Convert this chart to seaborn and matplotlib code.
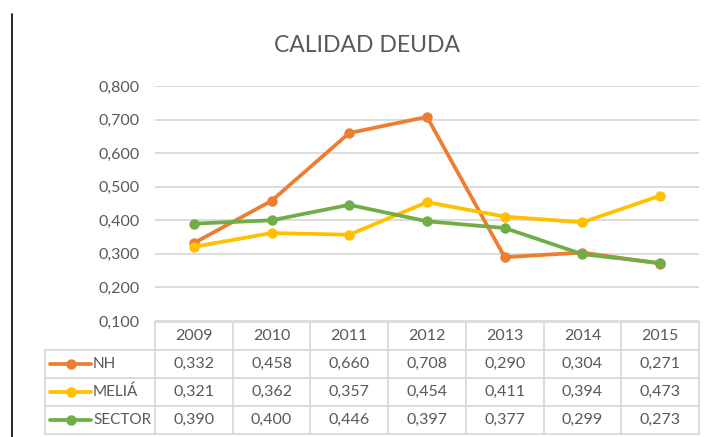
import pandas as pd
import matplotlib.pyplot as plt
import seaborn as sns
from matplotlib.lines import Line2D

years = ["2009", "2010", "2011", "2012", "2013", "2014", "2015"]
nh = [0.332, 0.458, 0.660, 0.708, 0.290, 0.304, 0.271]
melia = [0.321, 0.362, 0.357, 0.454, 0.411, 0.394, 0.473]
sector = [0.390, 0.400, 0.446, 0.397, 0.377, 0.299, 0.273]
series_names = ["NH", "MELIÁ", "SECTOR"]
colors = ["#ED7D31", "#FFC000", "#70AD47"]
y_ticks = [0.1, 0.2, 0.3, 0.4, 0.5, 0.6, 0.7, 0.8]

sns.set_style("white")
plt.rcParams["font.family"] = ["Lato", "DejaVu Sans"]
grey_txt = "#595959"
grid_col = "#D9D9D9"
fs = 11.5

rows = []
for name, vals in zip(series_names, [nh, melia, sector]):
    for y, v in zip(years, vals):
        rows.append({"year": y, "value": v, "serie": name})
df = pd.DataFrame(rows)

W, H = 709, 437
fig = plt.figure(figsize=(W / 100, H / 100), dpi=100)

# main plot area (pixel boxes converted to figure fractions)
left, right, top, bottom = 155, 699, 86, 321
ax = fig.add_axes([left / W, 1 - bottom / H, (right - left) / W, (bottom - top) / H])
for yt in y_ticks:
    ax.axhline(yt, color=grid_col, lw=1.3, zorder=0)
sns.lineplot(data=df, x="year", y="value", hue="serie", palette=colors,
             marker="o", markersize=7.5, markeredgewidth=0, linewidth=2.7,
             sort=False, legend=False, ax=ax)
ax.set_xlim(-0.5, len(years) - 0.5)
ax.set_ylim(0.1, 0.8)
ax.set_yticks(y_ticks)
ax.set_yticklabels([f"{t:.3f}".replace(".", ",") for t in y_ticks],
                   color=grey_txt, fontsize=fs)
ax.tick_params(axis="y", length=0, pad=11)
ax.set_xticks([])
ax.set_xlabel("")
ax.set_ylabel("")
for s in ax.spines.values():
    s.set_visible(False)
fig.text(367 / W, 1 - 46 / H, "CALIDAD DEUDA",
         ha="center", va="center", fontsize=16.5, color=grey_txt)

# data table below the plot
t_left, t_top, t_bottom = 45, 322, 434
unit = (right - left) / len(years)
x0 = -0.5 - (left - t_left) / unit
tax = fig.add_axes([t_left / W, 1 - t_bottom / H, (right - t_left) / W, (t_bottom - t_top) / H])
tax.set_xlim(x0, len(years) - 0.5)
tax.set_ylim(0, 4)
tax.axis("off")
lk = dict(color=grid_col, lw=1.3, clip_on=False)
tax.plot([-0.5, len(years) - 0.5], [4, 4], **lk)
for yy in [3, 2, 1, 0]:
    tax.plot([x0, len(years) - 0.5], [yy, yy], **lk)
tax.plot([x0, x0], [0, 3], **lk)
for i in range(len(years) + 1):
    tax.plot([i - 0.5, i - 0.5], [0, 4], **lk)
for i, y in enumerate(years):
    tax.text(i, 3.5, y, ha="center", va="center", fontsize=fs, color=grey_txt)
for r, (name, vals, c) in enumerate(zip(series_names, [nh, melia, sector], colors)):
    yc = 2.5 - r
    lx0 = x0 + 5 / unit
    lx1 = x0 + 46 / unit
    tax.plot([lx0, lx1], [yc, yc], color=c, lw=2.7, solid_capstyle="round")
    tax.plot([(lx0 + lx1) / 2], [yc], "o", color=c, markersize=7.5, markeredgewidth=0)
    tax.text(x0 + 48 / unit, yc, name, ha="left", va="center", fontsize=fs - 0.5, color=grey_txt)
    for i, v in enumerate(vals):
        tax.text(i, yc, f"{v:.3f}".replace(".", ","), ha="center", va="center",
                 fontsize=fs, color=grey_txt)

# page border line on the left
fig.add_artist(Line2D([12 / W, 12 / W], [0, 1 - 14 / H], color="black", lw=1.2))

fig.savefig("out.png", dpi=100, facecolor="white")
